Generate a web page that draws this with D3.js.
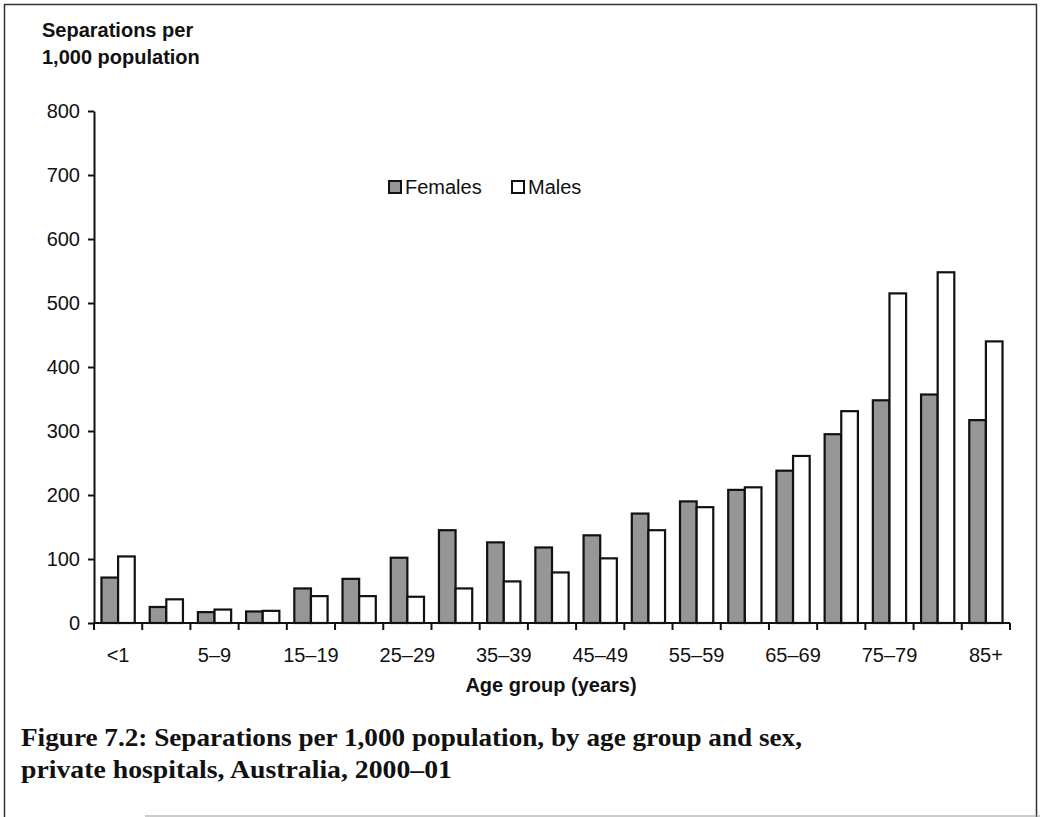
<!DOCTYPE html>
<html>
<head>
<meta charset="utf-8">
<script src="https://cdn.jsdelivr.net/npm/d3@7"></script>
<style>
  html, body { margin: 0; padding: 0; background: #fff; }
  svg { display: block; }
</style>
</head>
<body>
<script>
// Age groups (x categories)
const ageGroups = ["<1", "1–4", "5–9", "10–14", "15–19", "20–24", "25–29", "30–34", "35–39",
  "40–44", "45–49", "50–54", "55–59", "60–64", "65–69", "70–74", "75–79", "80–84", "85+"];
// Labels shown under the axis (every other group)
const shownLabels = ["<1", "5–9", "15–19", "25–29", "35–39", "45–49", "55–59", "65–69", "75–79", "85+"];
// Separations per 1,000 population
const females = [71, 25, 17, 18, 54, 69, 102, 145, 126, 118, 137, 171, 190, 208, 238, 295, 348, 357, 317];
const males   = [104, 37, 21, 19, 42, 42, 41, 54, 65, 79, 101, 145, 181, 212, 261, 331, 515, 548, 440];
const seriesNames = ["Females", "Males"];
const yTicks = [0, 100, 200, 300, 400, 500, 600, 700, 800];

const W = 1040, H = 817;
const svg = d3.select("body").append("svg").attr("width", W).attr("height", H);

// Outer frame
svg.append("path")
  .attr("d", `M4.5,${H} V4.5 H1036.5 V${H}`)
  .attr("fill", "none").attr("stroke", "#333").attr("stroke-width", 1.5);
svg.append("line").attr("x1", 145).attr("x2", W).attr("y1", 816).attr("y2", 816)
  .attr("stroke", "#999").attr("stroke-width", 1);

const x0 = 94, x1 = 1010, yBase = 623, yTop = 111;
const x = d3.scaleBand().domain(ageGroups).range([x0, x1]).paddingInner(0.31).paddingOuter(0.155);
const xs = d3.scaleBand().domain(seriesNames).range([0, x.bandwidth()]);
const y = d3.scaleLinear().domain([0, 800]).range([yBase, yTop]);

const axisFont = "'Liberation Sans', Arial, sans-serif";
const fs = 20;

// Y axis
const yAxis = svg.append("g").attr("transform", `translate(${x0},0)`)
  .call(d3.axisLeft(y).tickValues(yTicks).tickSize(6).tickPadding(8).tickSizeOuter(0));
yAxis.select(".domain").attr("stroke", "#111").attr("stroke-width", 2);
yAxis.selectAll(".tick line").attr("stroke", "#111").attr("stroke-width", 2);
yAxis.selectAll("text").attr("font-family", axisFont).attr("font-size", fs).attr("fill", "#111");

// Bars
const rows = ageGroups.map((g, i) => ({ g, vals: [females[i], males[i]] }));
const grp = svg.append("g").selectAll("g").data(rows).join("g")
  .attr("transform", d => `translate(${x(d.g)},0)`);
grp.selectAll("rect").data(d => d.vals.map((v, k) => ({ v, s: seriesNames[k] }))).join("rect")
  .attr("x", d => xs(d.s))
  .attr("width", xs.bandwidth())
  .attr("y", d => y(d.v))
  .attr("height", d => yBase - y(d.v))
  .attr("fill", d => d.s === "Females" ? "#969696" : "#fff")
  .attr("stroke", "#111").attr("stroke-width", 2.2);

// X axis: baseline with ticks at group boundaries
const xAxisG = svg.append("g");
xAxisG.append("line").attr("x1", x0).attr("x2", x1).attr("y1", yBase).attr("y2", yBase)
  .attr("stroke", "#111").attr("stroke-width", 2.2);
const bounds = ageGroups.map(g => x(g) - x.step() * x.paddingInner() / 2).concat([x1]);
xAxisG.selectAll(".xt").data(bounds).join("line")
  .attr("x1", d => d).attr("x2", d => d).attr("y1", yBase).attr("y2", yBase + 7)
  .attr("stroke", "#111").attr("stroke-width", 2);
xAxisG.selectAll(".xl").data(shownLabels).join("text")
  .attr("x", d => x(d) + x.bandwidth() / 2)
  .attr("y", 662)
  .attr("text-anchor", "middle")
  .attr("font-family", axisFont).attr("font-size", fs).attr("fill", "#111")
  .text(d => d);

// Axis titles
svg.append("text").attr("x", 551).attr("y", 692).attr("text-anchor", "middle")
  .attr("font-family", axisFont).attr("font-size", 20).attr("font-weight", "bold").attr("fill", "#111")
  .text("Age group (years)");
const yt = svg.append("text").attr("font-family", axisFont).attr("font-size", 20)
  .attr("font-weight", "bold").attr("fill", "#111");
yt.append("tspan").attr("x", 42).attr("y", 37).text("Separations per");
yt.append("tspan").attr("x", 42).attr("y", 64).text("1,000 population");

// Legend
const legend = svg.append("g").attr("transform", "translate(388,180)");
seriesNames.forEach((name, i) => {
  const lx = i === 0 ? 0 : 123;
  legend.append("rect").attr("x", lx + 1).attr("y", 1).attr("width", 12).attr("height", 12)
    .attr("fill", name === "Females" ? "#969696" : "#fff").attr("stroke", "#111").attr("stroke-width", 2);
  legend.append("text").attr("x", lx + 17).attr("y", 14)
    .attr("font-family", axisFont).attr("font-size", fs).attr("fill", "#111").text(name);
});

// Figure caption
const cap = svg.append("text").attr("font-family", "'Liberation Serif', 'Times New Roman', serif")
  .attr("font-size", 25).attr("font-weight", "bold").attr("fill", "#111");
cap.append("tspan").attr("x", 21).attr("y", 746)
  .attr("textLength", 781).attr("lengthAdjust", "spacingAndGlyphs")
  .text("Figure 7.2: Separations per 1,000 population, by age group and sex,");
cap.append("tspan").attr("x", 21).attr("y", 778)
  .attr("textLength", 431).attr("lengthAdjust", "spacingAndGlyphs")
  .text("private hospitals, Australia, 2000–01");
</script>
</body>
</html>
